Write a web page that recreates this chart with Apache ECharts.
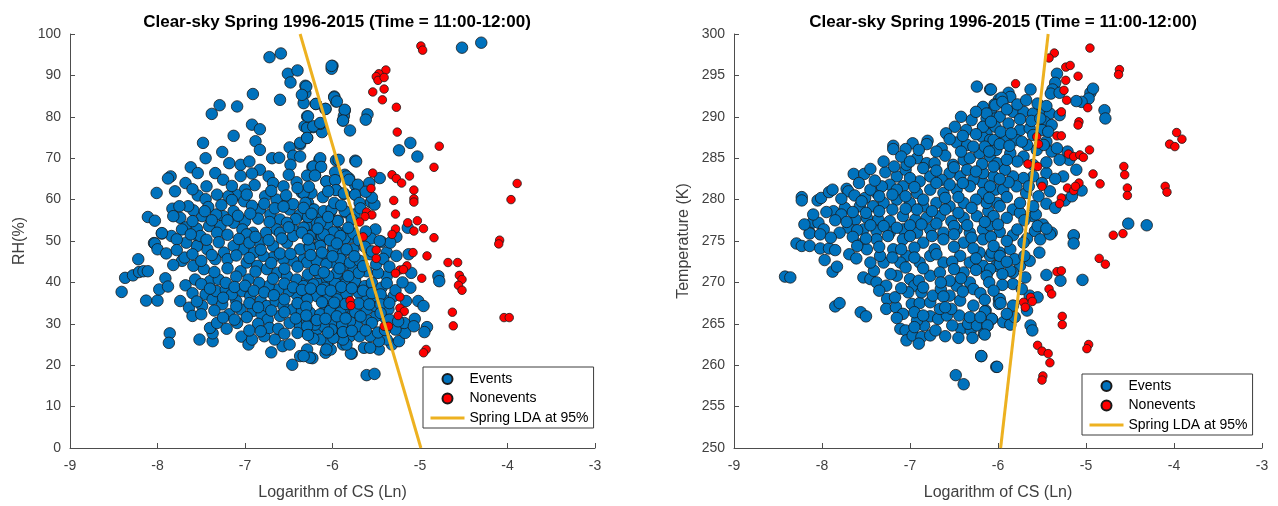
<!DOCTYPE html>
<html>
<head>
<meta charset="utf-8">
<script src="https://cdn.jsdelivr.net/npm/echarts@6/dist/echarts.min.js"></script>
<style>
  html, body { margin: 0; padding: 0; background: #fff; }
  #chart { width: 1278px; height: 506px; }
</style>
</head>
<body>
<div id="chart"></div>
<script>
// values: [log CS, value]
const titleText = 'Clear-sky Spring 1996-2015 (Time = 11:00-12:00)'
const xTicks = [-9, -8, -7, -6, -5, -4, -3]
const rhTicks = [0, 10, 20, 30, 40, 50, 60, 70, 80, 90, 100]
const tempTicks = [250, 255, 260, 265, 270, 275, 280, 285, 290, 295, 300]

// LDA boundary end points
const ldaRH = [[-6.37, 100], [-4.99, 0]]
const ldaTemp = [[-5.97, 250], [-5.43, 300]]

const rhEvents = [
  [-6.72,94.4],[-6.59,95.3],[-6.51,90.4],[-6.40,91.2],[-6.48,88.3],[-6.31,87.5],[-6.31,85.7],[-6.33,83.3],[-6.60,84.1],[-6.91,85.5],
  [-7.38,80.7],[-7.29,82.8],[-7.09,82.5],[-6.19,83.1],[-6.08,81.9],[-6.00,92.3],[-6.01,91.6],[-5.98,84.9],[-5.96,83.7],[-5.86,81.5],
  [-5.87,80.2],[-5.88,79.1],[-5.80,76.7],[-6.29,80.1],[-6.32,77.7],[-6.22,77.5],[-6.12,76.3],[-6.14,78.3],[-6.29,74.9],[-6.37,73.3],
  [-6.49,72.6],[-6.92,78.1],[-6.83,77.0],[-7.13,75.4],[-6.88,74.1],[-6.83,72.0],[-7.48,73.7],[-7.45,70.0],[-7.62,67.8],[-7.54,66.4],
  [-7.68,64.0],[-7.85,65.6],[-7.88,65.1],[-8.01,61.6],[-7.80,62.0],[-7.54,61.0],[-7.83,57.8],[-8.11,55.8],[-8.03,54.9],[-7.95,51.8],
  [-8.04,49.5],[-7.26,71.5],[-7.18,68.8],[-7.34,66.4],[-7.05,68.4],[-6.95,69.2],[-6.69,70.0],[-6.61,70.1],[-6.45,70.6],[-6.48,68.4],
  [-6.15,69.6],[-6.23,67.9],[-6.20,65.9],[-5.96,69.5],[-5.74,69.4],[-5.86,66.0],[-5.81,65.1],[-5.97,66.6],[-6.07,64.4],[-5.74,63.5],
  [-5.96,62.4],[-5.87,61.4],[-5.74,61.2],[-5.84,56.9],[-5.75,56.4],[-5.94,54.9],[-6.83,67.2],[-6.73,65.6],[-6.68,64.0],[-6.56,63.2],
  [-6.41,64.2],[-6.35,61.7],[-6.28,59.2],[-6.52,59.2],[-6.64,60.0],[-6.77,60.8],[-6.89,63.5],[-7.00,62.4],[-7.10,61.2],[-7.19,60.8],
  [-7.32,61.2],[-7.44,63.2],[-7.01,59.6],[-7.13,57.2],[-7.25,56.0],[-7.33,56.4],[-7.49,56.0],[-7.59,57.4],[-7.65,58.4],[-7.75,58.4],
  [-7.74,55.6],[-7.82,56.0],[-7.68,53.3],[-7.55,53.0],[-7.41,53.6],[-7.28,53.6],[-7.13,54.4],[-7.00,54.8],[-6.83,57.6],[-6.71,56.4],
  [-6.60,55.2],[-6.49,57.6],[-6.37,56.4],[-6.22,57.6],[-6.12,56.0],[-6.02,57.2],[-6.18,54.4],[-6.30,53.6],[-6.45,52.8],[-6.64,52.8],
  [-6.76,52.0],[-6.91,52.0],[-7.03,52.8],[-6.07,52.8],[-5.92,52.0],[-5.80,50.8],[-7.84,51.2],[-7.72,52.8],[-7.52,50.4],
  [-8.41,37.7],[-8.37,41.1],[-8.28,41.7],[-8.22,45.6],[-8.21,42.5],[-8.16,42.7],[-8.11,42.7],[-8.13,35.6],[-8.00,35.6],[-7.98,38.3],
  [-7.91,41.0],[-7.88,39.0],[-8.03,49.4],[-8.00,48.0],[-7.95,51.9],[-7.86,27.7],[-7.87,25.4],[-7.52,26.2],[-7.37,25.8],[-7.37,27.7],
  [-7.40,29.0],[-7.32,30.2],[-7.21,28.8],[-7.09,30.2],[-7.04,26.9],[-6.96,25.0],[-6.92,26.2],[-6.70,23.1],[-6.46,20.1],[-6.37,22.2],
  [-6.23,21.7],[-6.29,23.8],[-6.57,24.6],[-6.49,25.0],[-6.66,26.2],[-6.78,27.0],[-6.08,23.0],[-6.02,23.8],[-6.06,25.4],[-5.95,27.0],
  [-5.78,22.8],[-5.88,25.0],[-5.80,27.0],[-7.74,35.5],[-7.72,45.2],[-7.69,46.0],[-7.59,44.0],[-7.57,40.7],[-7.68,39.3],[-7.64,33.9],
  [-7.60,31.9],[-7.49,34.3],[-7.45,37.1],[-7.37,35.9],[-7.33,37.9],[-7.26,34.7],[-7.18,32.3],[-7.05,33.5],[-7.10,35.5],[-6.91,33.1],
  [-6.81,32.3],[-6.74,31.0],[-6.60,31.9],[-6.49,30.2],[-6.37,29.4],[-6.29,30.6],[-6.18,28.6],[-5.99,30.2],[-5.89,29.4],[-5.76,29.4],
  [-7.47,43.2],[-7.40,40.3],[-7.30,40.7],[-7.22,38.3],[-7.15,37.1],[-7.03,37.9],[-6.94,36.7],[-6.82,35.5],[-6.75,34.3],[-6.65,35.5],
  [-6.56,34.3],[-6.45,33.5],[-6.35,33.1],[-6.22,31.9],[-6.10,32.7],[-6.01,34.3],[-5.88,33.5],[-5.76,32.7],[-5.84,36.7],[-5.95,37.5],
  [-6.06,36.7],[-6.18,37.5],[-6.30,36.7],[-6.41,37.1],[-6.50,37.9],[-6.62,38.3],[-6.73,39.1],[-6.84,39.9],[-6.96,40.7],[-7.05,42.7],
  [-6.98,44.8],[-6.86,44.0],[-6.75,43.2],[-6.63,42.3],[-6.52,41.5],[-6.41,40.7],[-6.29,40.3],[-6.18,39.9],[-6.06,40.7],[-5.95,41.5],
  [-5.84,40.7],[-5.74,39.9],[-5.76,43.1],[-5.88,44.0],[-5.99,44.8],[-6.10,45.6],[-6.22,45.2],[-6.33,45.6],[-6.45,45.2],[-6.56,45.6],
  [-6.68,46.0],[-6.79,46.4],[-6.90,47.2],[-7.02,48.0],[-7.13,48.8],[-7.24,47.2],[-7.34,45.6],[-7.43,48.0],[-7.55,48.8],[-7.67,49.6],
  [-7.78,50.4],[-6.83,49.6],[-6.68,48.8],[-6.52,49.6],[-6.37,48.0],[-6.26,48.8],[-6.14,49.6],[-5.99,48.0],[-5.88,47.2],[-5.76,48.0],
  [-6.45,51.2],[-6.60,52.0],[-6.22,51.6],[-5.95,52.0],[-7.32,52.0],[-7.51,51.2],[-6.98,51.6],
  [-4.52,96.7],[-4.30,97.9],[-6.01,92.3],[-5.98,84.7],[-5.95,83.7],[-5.86,81.7],[-5.88,79.1],[-5.60,80.6],[-5.62,79.3],[-5.24,71.9],
  [-5.11,73.7],[-5.03,70.4],[-5.73,69.2],[-5.93,69.6],[-6.14,70.0],[-6.22,68.0],[-6.13,67.9],[-6.29,65.8],[-6.20,65.8],[-6.07,64.4],
  [-5.97,64.7],[-5.84,65.6],[-5.81,64.8],[-5.71,63.6],[-5.46,65.2],[-5.58,64.0],[-5.96,62.3],[-5.87,61.5],[-5.74,61.2],[-5.69,59.2],
  [-5.56,59.4],[-5.52,58.8],[-6.11,60.6],[-6.24,61.6],[-6.33,61.6],[-6.31,59.2],[-6.21,57.6],[-6.10,57.2],[-6.01,57.6],[-5.86,57.2],
  [-5.78,55.2],[-5.94,54.8],[-6.06,54.0],[-6.14,54.4],[-6.28,55.8],[-6.33,53.2],[-6.26,51.2],[-6.12,51.2],[-5.99,52.1],[-5.86,50.6],
  [-5.76,51.8],[-5.51,52.8],[-5.56,50.6],[-5.44,49.8],[-5.27,51.0],[-5.14,53.2],[-6.37,70.4],[-6.37,73.7],[-6.30,87.3],[-6.29,77.3],
  [-6.29,74.9],[-6.22,77.7],[-6.14,78.5],[-6.28,80.1],[-6.19,83.1],[-6.08,81.9],[-6.35,85.3],
  [-4.79,41.5],[-4.78,40.3],[-5.02,35.5],[-4.96,34.3],[-5.06,31.2],[-4.92,29.2],[-4.95,28.0],[-5.16,35.5],[-5.11,38.7],[-5.13,46.8],
  [-5.10,42.3],[-5.61,17.6],[-5.52,17.9],[-5.79,22.8],[-5.64,24.2],[-5.47,23.8],[-5.32,25.0],[-5.24,25.8],[-5.38,26.2],[-5.47,25.8],
  [-5.57,24.2],[-5.57,27.0],[-5.69,27.0],[-5.84,25.0],[-5.88,26.2],[-5.99,26.6],[-6.07,23.8],[-6.14,26.2],[-6.22,26.4],[-6.26,21.8],
  [-6.33,22.2],[-5.17,27.8],[-5.28,28.6],[-5.18,30.2],[-5.07,29.4],[-5.40,31.5],[-5.50,31.9],[-5.61,31.0],[-5.72,29.4],[-5.80,30.6],
  [-5.89,29.8],[-6.01,28.6],[-6.10,29.4],[-6.20,29.8],[-6.29,29.4],[-6.26,32.7],[-6.14,32.3],[-6.03,33.1],[-5.91,32.7],[-5.74,32.8],
  [-5.61,33.5],[-5.51,34.3],[-5.36,33.5],[-5.30,36.7],[-5.42,35.9],[-5.51,36.7],[-5.63,35.9],[-5.70,37.5],[-5.84,37.1],[-5.95,35.9],
  [-6.07,36.3],[-6.18,36.7],[-6.29,35.9],[-6.33,39.1],[-6.22,39.5],[-6.09,38.7],[-5.97,39.9],[-5.86,39.5],[-5.74,40.3],[-5.63,39.1],
  [-5.55,39.9],[-5.44,38.7],[-5.38,41.5],[-5.48,42.3],[-5.61,42.7],[-5.70,42.3],[-5.82,41.5],[-5.95,42.3],[-6.05,41.5],[-6.16,42.3],
  [-6.28,41.9],[-6.29,44.8],[-6.18,45.2],[-6.07,44.4],[-5.91,45.6],[-5.80,44.8],[-5.69,45.2],[-5.57,46.8],[-5.38,47.2],[-5.27,46.4],
  [-5.34,49.6],[-5.46,50.0],[-5.84,48.0],[-5.99,48.4],[-6.14,48.8],[-6.26,48.4],[-5.91,51.2],[-6.10,51.6],
  // dense core
  [-7.25,64.8],[-7.05,65.7],[-6.92,66.3],[-6.50,66.0],[-6.40,62.8],[-6.27,63.1],[-6.05,62.0],[-7.45,60.1],[-7.60,62.5],[-7.15,63.3],
  [-6.98,61.2],[-6.70,62.1],[-6.53,61.0],[-6.45,58.9],[-6.33,58.0],[-7.42,58.2],[-7.27,58.7],[-7.15,59.9],[-6.92,58.5],[-6.78,59.0],
  [-6.66,57.9],[-6.56,58.3],[-6.42,55.3],[-6.52,54.4],[-6.72,54.6],[-6.85,55.4],[-6.94,56.6],[-7.08,56.1],[-7.20,55.0],[-7.38,55.0],
  [-7.60,54.8],[-7.46,57.2],[-6.24,56.6],[-6.05,55.8],[-5.98,59.2],[-5.90,58.6],[-5.68,57.9],[-5.55,60.5],[-5.62,61.9],
  [-7.62,51.6],[-7.44,50.3],[-7.30,49.7],[-7.20,51.5],[-7.07,50.5],[-6.95,49.6],[-6.88,51.0],[-6.73,50.2],[-6.58,50.6],[-6.50,53.3],
  [-6.35,52.0],[-6.28,50.4],[-6.17,53.0],[-6.03,50.2],[-5.95,49.4],[-5.82,53.2],[-5.70,50.2],[-5.62,52.3],[-5.63,48.6],[-5.55,47.5],
  [-7.90,47.0],[-7.78,47.8],[-7.60,46.8],[-7.82,44.2],[-7.50,45.2],[-7.38,46.6],[-7.20,45.6],[-7.10,46.5],[-6.95,45.9],[-6.82,47.9],
  [-6.70,44.7],[-6.60,47.0],[-6.48,46.9],[-6.40,43.8],[-6.25,46.6],[-6.12,47.2],[-6.00,46.3],[-5.92,43.4],[-5.75,46.3],[-5.65,43.9],
  [-5.50,44.4],[-5.42,45.7],[-5.35,43.8],[-7.35,42.5],[-7.20,43.4],[-7.10,41.4],[-6.88,42.6],[-6.68,40.9],[-6.55,43.3],[-6.20,43.0],
  [-6.10,42.4],[-7.60,37.4],[-7.50,39.6],[-7.40,38.5],[-7.22,39.9],[-7.12,38.9],[-7.00,39.2],[-6.90,38.0],[-6.78,37.6],[-6.67,36.9],
  [-6.55,39.7],[-6.45,38.8],[-6.35,38.2],[-6.25,38.5],[-6.12,38.2],[-6.02,38.0],[-5.90,38.9],[-5.78,38.6],[-5.65,38.0],[-5.55,37.4],
  [-5.45,37.1],[-5.38,39.8],[-5.28,38.1],[-5.20,40.0],[-7.55,35.4],[-7.25,36.3],[-7.10,34.2],[-6.95,35.0],[-6.85,34.0],[-6.70,33.2],
  [-6.55,35.9],[-6.40,35.0],[-6.30,34.1],[-6.12,35.2],[-5.98,35.1],[-5.85,34.8],[-5.70,34.9],[-5.58,34.7],[-5.45,34.7],[-5.35,35.0],
  [-7.50,32.3],[-7.35,33.2],[-7.25,31.5],[-7.12,31.0],[-6.98,31.6],[-6.85,30.0],[-6.72,29.0],[-6.62,28.8],[-6.55,32.8],[-6.42,31.3],
  [-6.30,32.0],[-6.18,30.9],[-6.08,31.2],[-5.95,31.8],[-5.85,31.3],[-5.68,31.8],[-5.55,30.2],[-5.45,32.6],[-5.35,31.0],[-5.25,30.6],
  [-6.95,28.4],[-6.82,28.2],[-6.55,27.6],[-6.40,27.8],[-6.28,27.3],[-6.05,27.9],[-5.88,28.0],[-5.78,28.3],[-5.62,28.4],[-5.48,27.9],
  [-5.40,28.5]
]

const rhNonevents = [
  [-4.99,97.1],[-4.97,96.1],[-5.39,91.3],[-5.47,90.4],[-5.50,89.7],[-5.48,88.8],[-5.41,89.5],[-5.41,86.7],[-5.54,86.0],[-5.43,84.1],
  [-5.27,82.3],[-5.26,76.3],[-4.78,72.9],[-4.84,67.8],[-3.89,63.9],[-3.96,60.0],[-5.54,66.4],[-5.56,62.7],[-5.32,66.0],[-5.27,65.1],
  [-5.21,64.0],[-5.12,65.7],[-5.07,62.3],[-5.07,60.2],[-5.07,59.4],[-5.30,59.8],[-5.28,56.5],[-5.14,54.4],[-5.03,54.9],[-4.96,53.0],
  [-5.07,52.4],[-5.28,52.9],[-5.32,51.6],[-4.84,50.8],[-4.09,50.2],[-4.10,49.3],[-5.61,57.0],[-5.55,56.3],[-5.63,55.9],[-5.69,54.6],
  [-5.65,51.0],[-5.50,47.8],[-5.50,45.8],[-5.08,47.2],[-4.92,46.4],[-4.68,44.8],[-4.57,44.8],[-5.15,44.0],[-5.23,43.0],[-5.28,42.2],
  [-5.19,43.1],[-4.98,41.0],[-4.55,41.7],[-4.52,40.7],[-4.56,39.3],[-4.52,38.1],[-5.23,36.5],[-5.80,35.6],[-5.79,34.4],[-5.23,33.8],
  [-5.18,33.0],[-5.25,32.0],[-4.63,32.8],[-4.62,29.5],[-4.04,31.5],[-3.98,31.5],[-5.41,29.4],[-5.36,29.4],[-4.93,23.8],[-4.96,23.0]
]

const tempEvents = [
  [-6.24,293.65],[-6.09,293.3],[-5.99,292.1],[-6.04,291.5],[-6.08,290.5],[-6.03,289.8],[-6.17,288.8],[-6.13,288.0],[-6.18,287.6],[-6.09,287.2],
  [-6.36,288.4],[-6.49,288.8],[-6.59,288.0],[-6.47,286.9],[-6.35,286.6],[-6.80,287.1],[-6.81,286.7],[-6.97,286.8],[-7.05,286.1],[-7.19,286.5],
  [-7.19,286.1],[-6.64,286.2],[-7.64,283.1],[-7.52,283.1],[-8.23,280.3],[-8.23,279.9],[-8.05,279.9],[-8.01,280.2],[-7.92,280.9],[-7.88,281.2],
  [-7.72,281.3],[-7.70,281.0],[-7.63,280.5],[-7.51,280.2],[-7.38,280.8],[-7.28,283.3],[-7.15,282.8],[-7.05,283.6],[-7.04,284.2],[-6.92,285.0],
  [-6.81,284.4],[-6.72,284.4],[-6.60,285.3],[-6.51,284.2],[-6.39,284.8],[-6.32,285.0],[-6.21,285.6],[-6.09,285.2],[-6.01,284.4],[-6.05,282.8],
  [-6.17,282.0],[-6.28,282.4],[-6.43,282.8],[-6.55,283.2],[-6.64,282.4],[-6.77,282.8],[-6.89,282.2],[-7.00,282.6],[-7.08,281.6],[-7.23,281.8],
  [-7.32,281.6],[-7.45,281.2],[-6.92,280.8],[-6.77,281.2],[-6.62,280.8],[-6.47,281.2],[-6.32,281.6],[-6.17,280.8],[-6.03,281.2],[-6.39,279.6],
  [-6.55,279.2],[-6.70,279.6],[-6.85,279.2],[-7.00,279.6],[-7.15,280.0],[-7.30,279.6],[-7.42,279.2],[-7.57,279.2],[-7.74,279.0],[-7.87,278.6],
  [-7.78,278.2],[-8.11,277.2],[-8.04,277.2],[-7.98,276.4],[-8.14,276.0],[-7.62,277.6],[-7.49,277.8],[-7.36,277.6],[-7.23,277.4],[-7.08,278.0],
  [-6.94,277.6],[-6.81,277.8],[-6.66,278.0],[-6.53,277.4],[-6.39,277.8],[-6.24,278.0],[-6.11,278.6],[-6.01,279.6],[-6.17,276.4],[-6.32,276.0],
  [-6.47,276.4],[-6.62,276.0],[-6.77,276.4],[-6.92,276.0],[-7.08,276.4],[-7.23,276.0],[-7.38,276.2],[-7.53,276.4],[-7.70,276.6],[-6.17,291.2],
  [-6.13,289.8],
  [-8.42,270.7],[-8.36,270.6],[-8.29,274.7],[-8.23,274.4],[-8.14,274.4],[-8.14,275.9],[-8.02,275.8],[-8.02,274.1],[-7.92,274.1],[-7.85,273.9],
  [-7.97,272.7],[-7.88,271.3],[-7.83,271.9],[-7.85,267.1],[-7.80,267.5],[-7.56,266.4],[-7.50,265.9],[-7.69,273.4],[-7.61,272.9],[-7.56,274.6],
  [-7.49,274.0],[-7.53,270.6],[-7.45,270.4],[-7.41,271.4],[-7.38,270.0],[-7.30,272.4],[-7.27,269.6],[-7.26,268.0],[-7.27,266.8],[-7.16,267.0],
  [-7.17,268.2],[-7.08,266.2],[-7.11,264.4],[-7.05,264.2],[-7.04,263.0],[-6.97,263.6],[-6.87,263.4],[-6.77,263.6],[-6.71,264.2],[-6.84,264.8],
  [-6.92,265.4],[-6.77,265.9],[-6.68,265.6],[-6.58,266.0],[-6.44,266.0],[-6.42,264.4],[-6.31,264.2],[-6.29,263.3],[-6.34,265.0],[-6.24,264.8],
  [-6.16,263.8],[-6.12,264.8],[-6.07,265.6],[-6.14,266.6],[-6.28,267.2],[-6.32,265.8],[-6.19,261.1],[-6.48,258.8],[-6.39,257.7],[-6.02,259.8],
  [-6.98,267.4],[-6.89,267.5],[-6.77,267.6],[-6.66,266.8],[-6.53,266.8],[-6.43,267.8],[-7.00,270.4],[-6.95,269.6],[-7.02,268.8],[-6.87,268.8],
  [-6.74,268.4],[-6.65,269.2],[-6.55,268.4],[-6.47,269.6],[-6.55,270.2],[-6.32,270.0],[-6.28,269.2],[-6.12,271.2],[-6.02,272.0],[-6.09,273.2],
  [-5.98,273.6],[-6.21,273.6],[-6.32,272.4],[-6.43,273.2],[-6.62,272.4],[-6.77,273.2],[-6.89,272.4],[-7.04,273.2],[-7.11,272.4],[-7.19,274.0],
  [-7.34,273.2],[-7.45,272.4],[-7.38,275.2],[-7.08,275.2],[-6.85,274.8],[-6.62,275.2],[-6.39,274.8],[-6.17,275.2],[-7.15,270.8],[-6.77,270.8],
  [-6.66,271.2],[-6.39,271.2],[-6.17,272.0],[-5.99,268.0],[-5.99,267.4],
  [-5.33,295.2],[-5.35,294.1],[-5.38,293.3],[-5.40,292.8],[-5.30,292.9],[-4.95,292.9],[-4.92,293.4],[-4.97,292.2],[-5.05,291.8],[-5.11,291.9],
  [-4.79,290.8],[-4.78,289.8],[-5.63,293.3],[-6.08,293.3],[-5.88,292.9],[-5.86,292.4],[-5.96,292.3],[-6.03,291.4],[-5.83,290.6],[-5.71,290.6],
  [-5.60,290.4],[-5.49,290.8],[-5.41,290.4],[-5.47,289.4],[-5.39,289.0],[-5.30,290.2],[-6.13,290.4],[-5.98,290.0],[-6.17,288.8],[-6.03,288.8],
  [-5.88,289.2],[-5.75,288.4],[-5.64,288.6],[-5.50,288.4],[-5.45,287.0],[-5.56,286.0],[-5.67,286.6],[-5.79,287.2],[-5.92,287.6],[-6.05,287.2],
  [-6.15,286.4],[-6.02,286.0],[-5.86,285.6],[-5.71,285.2],[-5.39,285.8],[-5.21,285.8],[-5.19,284.8],[-5.11,283.6],[-5.26,282.8],[-5.45,283.2],
  [-5.60,282.8],[-5.71,282.6],[-5.83,282.8],[-5.92,283.6],[-6.05,284.0],[-6.17,283.2],[-6.09,281.6],[-5.94,281.2],[-5.79,281.6],[-5.68,280.8],
  [-5.54,280.4],[-5.41,281.0],[-5.05,281.1],[-5.24,279.9],[-5.16,280.4],[-6.13,279.6],[-5.98,279.2],[-5.83,278.8],[-5.75,278.4],[-5.60,278.0],
  [-5.49,277.0],[-5.39,276.0],[-5.57,278.2],[-4.52,277.1],[-4.31,276.9],[-5.14,275.6],[-6.09,276.9],[-5.98,276.1],[-5.83,275.7],[-5.67,275.3],
  [-5.14,275.7],[-5.14,274.7],[-5.45,270.9],[-5.29,270.2],[-5.04,270.3],[-5.64,268.4],[-5.55,268.2],[-5.67,266.6],[-5.63,264.8],[-5.61,264.2],
  [-5.98,268.0],[-5.97,267.5],[-5.83,267.2],[-6.15,266.5],[-6.07,265.6],[-6.12,264.8],[-5.94,265.2],[-5.86,264.9],[-5.81,265.8],[-6.15,263.7],
  [-6.19,261.1],[-6.01,259.8],[-5.83,269.8],[-5.73,269.2],[-5.69,270.6],[-5.75,272.0],[-5.83,271.2],[-5.86,271.4],[-5.98,272.2],[-6.09,271.6],
  [-6.13,270.8],[-6.07,273.6],[-5.98,273.2],[-5.86,274.0],[-5.71,274.8],[-5.58,276.2],[-5.52,275.2],[-5.41,275.8],[-5.81,272.8],[-5.64,272.6],
  [-5.53,273.6],
  // dense core
  [-5.95,291.8],[-5.78,291.5],[-5.68,292.0],[-5.55,291.6],[-5.45,291.3],[-5.90,290.9],[-5.75,289.7],[-5.62,289.5],[-5.52,289.8],[-6.08,289.4],
  [-6.30,289.6],[-6.42,290.0],[-6.25,290.6],[-5.97,288.2],[-5.85,288.0],[-5.60,287.8],[-5.43,288.2],[-6.25,287.9],[-6.40,287.7],[-6.55,287.3],
  [-5.73,287.0],[-5.98,286.7],[-5.87,286.5],[-6.10,285.8],[-6.28,286.4],[-6.42,285.8],[-6.70,285.8],[-6.90,286.0],[-7.10,285.2],[-7.30,284.6],
  [-7.45,283.7],[-5.48,286.6],[-5.33,286.2],[-5.30,284.8],[-5.45,284.5],[-5.60,284.2],[-5.78,284.6],[-5.90,284.8],[-6.18,284.3],[-6.35,283.6],
  [-6.50,283.9],[-6.70,283.5],[-6.85,283.8],[-7.00,284.6],[-7.18,284.0],[-7.40,282.3],[-7.58,282.0],[-5.35,282.5],[-5.50,282.0],[-5.65,281.6],
  [-5.88,282.1],[-5.98,282.5],[-6.25,283.4],[-6.40,282.0],[-6.55,281.8],[-6.70,282.0],[-6.95,281.5],[-7.15,281.2],[-7.78,280.1],[-7.55,279.8],
  [-7.35,280.4],[-7.20,280.6],[-7.05,280.4],[-6.85,280.0],[-6.60,280.2],[-6.45,280.3],[-6.25,280.0],[-6.10,280.2],[-5.90,280.3],[-5.75,279.6],
  [-5.60,279.2],[-5.45,279.5],[-5.35,279.0],[-6.30,279.0],[-6.45,278.4],[-6.60,278.8],[-6.75,278.6],[-6.92,278.8],[-7.05,278.9],[-7.20,278.8],
  [-7.35,278.6],[-7.50,278.4],[-7.65,278.5],[-7.95,278.5],[-8.10,278.2],[-8.20,277.0],[-7.85,277.5],[-7.72,277.3],[-6.05,278.0],[-5.90,277.8],
  [-5.70,277.5],[-5.55,276.8],[-5.45,276.5],[-6.00,277.0],[-6.15,277.3],[-6.35,276.9],[-6.50,276.8],[-6.70,277.1],[-6.87,277.0],[-7.00,276.9],
  [-7.15,276.6],[-7.30,276.8],[-7.45,276.9],[-7.60,276.3],[-7.80,276.0],[-7.90,275.4],[-7.65,275.5],[-7.50,275.3],[-7.25,275.6],[-7.00,275.6],
  [-6.75,275.6],[-6.50,275.8],[-6.30,275.4],[-6.08,275.5],[-5.90,275.0],[-5.78,276.4],[-7.60,274.4],[-7.35,274.3],[-7.10,274.0],[-6.95,274.2],
  [-6.72,274.0],[-6.50,274.3],[-6.28,274.1],[-6.05,274.4],[-7.20,273.0],[-6.95,273.0],[-6.70,273.4],[-6.52,272.5],[-6.25,272.9],[-5.90,272.5],
  [-5.70,273.2],[-7.05,271.8],[-6.85,271.7],[-6.50,271.6],[-6.25,271.5],[-5.95,271.0],[-7.22,271.0],[-6.90,270.2],[-6.65,270.0],[-6.42,270.5],
  [-6.10,270.0],[-5.95,269.7],[-6.85,269.4],[-6.62,268.3],[-6.40,268.9],[-6.20,268.7],[-6.05,269.0],[-6.15,267.9],[-7.10,269.3],[-7.35,269.0],
  [-7.15,265.7],[-6.95,266.4],[-6.85,266.0],[-6.60,267.0],[-6.52,264.8],[-6.20,265.8],[-5.90,266.2],[-6.95,264.6],[-6.60,263.5],[-6.45,263.3],
  [-6.90,262.6]
]

const tempNonevents = [
  [-4.955,298.3],[-5.36,297.7],[-5.42,297.1],[-5.23,296.0],[-5.18,296.2],[-4.62,295.7],[-4.63,295.1],[-5.09,294.9],[-5.80,294.0],[-5.23,294.4],
  [-5.25,293.2],[-5.22,292.0],[-4.98,291.1],[-5.28,290.6],[-5.08,289.4],[-5.09,289.0],[-3.97,288.1],[-3.91,287.3],[-4.05,286.7],[-3.99,286.4],
  [-5.33,287.7],[-5.28,287.7],[-5.56,287.6],[-5.54,286.7],[-4.96,286.0],[-5.20,285.5],[-5.14,285.2],[-5.07,285.4],[-5.03,285.1],[-5.66,284.3],
  [-5.55,284.0],[-4.57,284.0],[-4.56,283.0],[-4.92,283.1],[-4.84,281.9],[-5.50,281.6],[-5.21,281.4],[-5.14,281.1],[-5.08,282.0],[-5.12,281.6],
  [-5.28,280.2],[-5.30,279.5],[-4.53,281.4],[-4.53,280.5],[-4.10,281.6],[-4.08,280.9],[-4.69,275.7],[-4.58,275.9],[-4.85,272.9],[-4.78,272.2],
  [-5.33,271.3],[-5.28,271.4],[-5.42,269.2],[-5.39,268.6],[-5.63,268.2],[-5.61,267.7],[-5.71,267.6],[-5.69,267.0],[-5.27,265.9],[-5.27,264.9],
  [-4.97,262.5],[-4.99,262.0],[-5.55,262.4],[-5.50,261.7],[-5.43,261.4],[-5.41,260.3],[-5.49,258.7],[-5.50,258.2]
]

const chart = echarts.init(document.getElementById('chart'))
const font = 'Helvetica, "Liberation Sans", Arial, sans-serif'
const axisColor = '#4d4d4d'
const labelColor = '#404040'

const makeX = (grid) => ({
  type: 'value', gridIndex: grid, min: -9, max: -3, interval: 1,
  name: 'Logarithm of CS (Ln)', nameLocation: 'middle', nameGap: 37,
  nameTextStyle: { fontSize: 16, color: labelColor, fontFamily: font },
  axisLine: { show: true, onZero: false, lineStyle: { color: axisColor, width: 1 } },
  axisTick: { show: true, inside: true, length: 5, lineStyle: { color: axisColor } },
  axisLabel: { fontSize: 14, color: labelColor, fontFamily: font, margin: 11,
    formatter: (v) => xTicks.includes(v) ? String(v) : '' },
  splitLine: { show: false }
})

const makeY = (grid, name, ticks, gap) => ({
  type: 'value', gridIndex: grid, min: ticks[0], max: ticks[ticks.length - 1],
  interval: ticks[1] - ticks[0],
  name: name, nameLocation: 'middle', nameGap: gap,
  nameTextStyle: { fontSize: 16, color: labelColor, fontFamily: font },
  axisLine: { show: true, onZero: false, lineStyle: { color: axisColor, width: 1 } },
  axisTick: { show: true, inside: true, length: 5, lineStyle: { color: axisColor } },
  axisLabel: { fontSize: 14, color: labelColor, fontFamily: font, margin: 9 },
  splitLine: { show: false }
})

const eventStyle = { color: '#0072BD', borderColor: '#1a1a1a', borderWidth: 0.8, opacity: 1 }
const noneventStyle = { color: '#FF0000', borderColor: '#1a1a1a', borderWidth: 0.8, opacity: 1 }
const ldaStyle = { color: '#EDB120', width: 3 }

const legendBase = {
  orient: 'vertical',
  itemWidth: 34, itemHeight: 10, itemGap: 5.5,
  padding: [5, 5, 3, 6],
  borderColor: '#3c3c3c', borderWidth: 1,
  backgroundColor: '#fff',
  textStyle: { fontSize: 14, color: '#000', fontFamily: font },
  data: ['Events', 'Nonevents', {
    name: 'Spring LDA at 95%',
    lineStyle: { width: 3, color: '#EDB120' },
    itemStyle: { color: 'rgba(0,0,0,0)', borderColor: 'rgba(0,0,0,0)', borderWidth: 0, opacity: 0 }
  }]
}

const option = {
  animation: false,
  backgroundColor: '#fff',
  title: [
    { text: titleText, left: 332, top: 9, textAlign: 'center',
      textStyle: { fontSize: 17, fontWeight: 'bold', color: '#000', fontFamily: font } },
    { text: titleText, left: 998, top: 9, textAlign: 'center',
      textStyle: { fontSize: 17, fontWeight: 'bold', color: '#000', fontFamily: font } }
  ],
  grid: [
    { left: 70, top: 34, width: 525, height: 415 },
    { left: 734, top: 34, width: 528, height: 415 }
  ],
  xAxis: [makeX(0), makeX(1)],
  yAxis: [makeY(0, 'RH(%)', rhTicks, 42), makeY(1, 'Temperature (K)', tempTicks, 42)],
  legend: [
    Object.assign({}, legendBase, { left: 423, top: 367 }),
    Object.assign({}, legendBase, { left: 1082, top: 374 })
  ],
  series: [
    { name: 'Events', type: 'scatter', xAxisIndex: 0, yAxisIndex: 0, data: rhEvents,
      symbolSize: 11.5, itemStyle: eventStyle, z: 2 },
    { name: 'Nonevents', type: 'scatter', xAxisIndex: 0, yAxisIndex: 0, data: rhNonevents,
      symbolSize: 8.5, itemStyle: noneventStyle, z: 3 },
    { name: 'Spring LDA at 95%', type: 'line', xAxisIndex: 0, yAxisIndex: 0, data: ldaRH,
      symbol: 'none', lineStyle: ldaStyle, itemStyle: { color: '#EDB120' }, z: 4 },
    { name: 'Events', type: 'scatter', xAxisIndex: 1, yAxisIndex: 1, data: tempEvents,
      symbolSize: 11.5, itemStyle: eventStyle, z: 2 },
    { name: 'Nonevents', type: 'scatter', xAxisIndex: 1, yAxisIndex: 1, data: tempNonevents,
      symbolSize: 8.5, itemStyle: noneventStyle, z: 3 },
    { name: 'Spring LDA at 95%', type: 'line', xAxisIndex: 1, yAxisIndex: 1, data: ldaTemp,
      symbol: 'none', lineStyle: ldaStyle, itemStyle: { color: '#EDB120' }, z: 4 }
  ]
}

chart.setOption(option)
</script>
</body>
</html>
